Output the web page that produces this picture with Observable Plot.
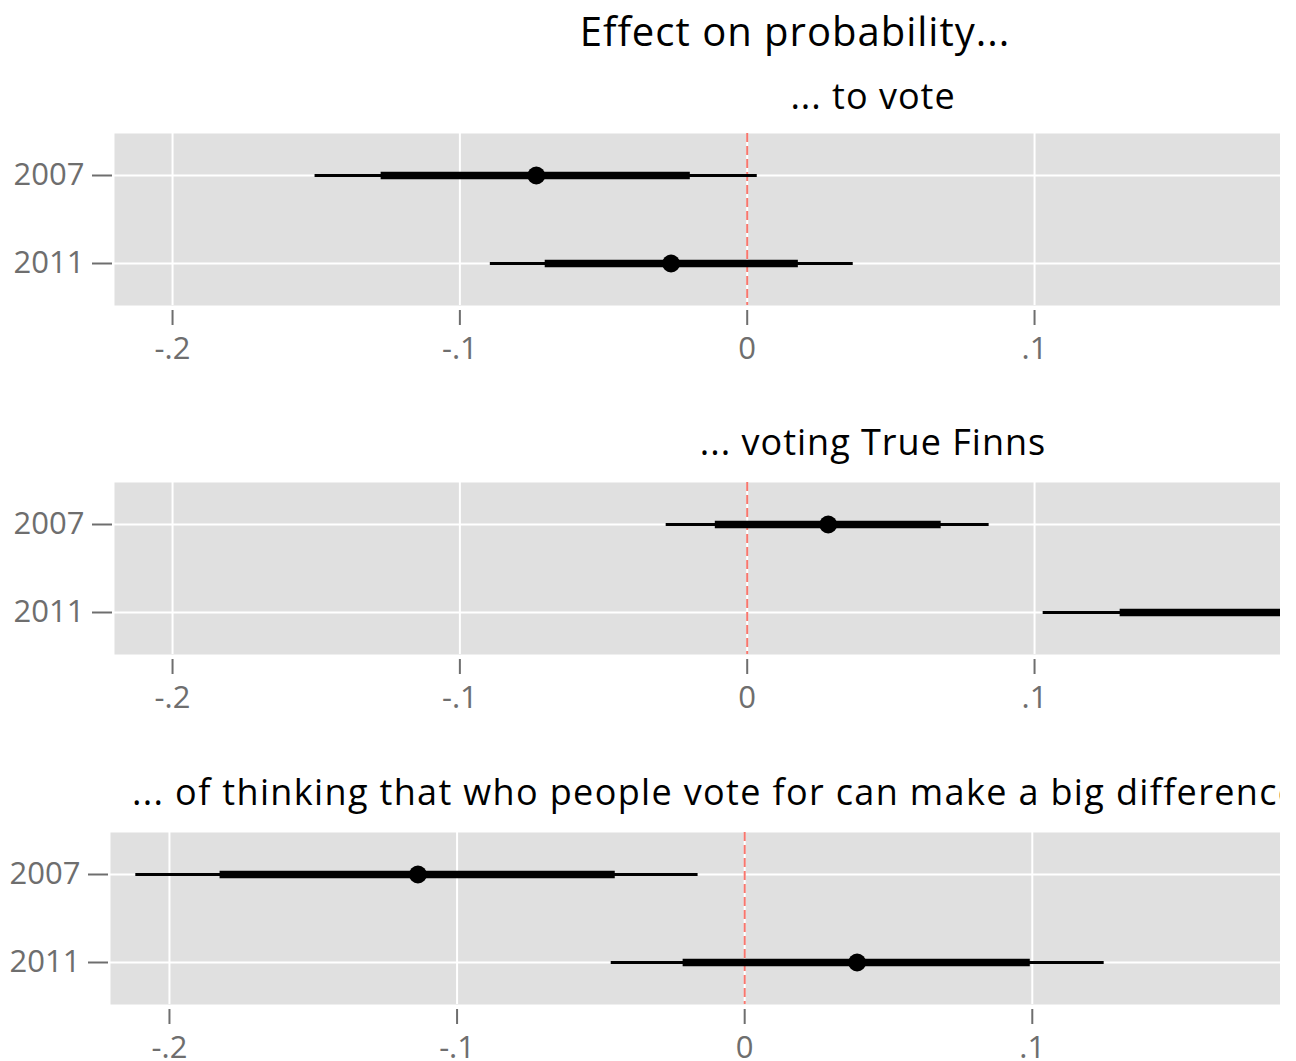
<!DOCTYPE html>
<html>
<head>
<meta charset="utf-8">
<script src="https://cdn.jsdelivr.net/npm/d3@7"></script>
<script src="https://cdn.jsdelivr.net/npm/@observablehq/plot@0.6"></script>
<style>
  html, body { margin: 0; padding: 0; background: white; overflow: hidden; }
  #page { position: relative; width: 1280px; height: 1061px; overflow: hidden; background: white; }
  .title { position: absolute; font-family: "Open Sans", sans-serif; font-size: 36px; line-height: 36px; letter-spacing: 1px; color: #000; white-space: nowrap; text-align: center; }
  .panel { position: absolute; left: 0; }
</style>
</head>
<body>
<div id="page">
  <div class="title" id="mainTitle" style="left:395px; width:800px; top:11px; font-size:40px; line-height:40px;"></div>
  <div class="title" id="t1" style="left:273px; width:1200px; top:78px;"></div>
  <div class="panel" id="p1" style="top:123px;"></div>
  <div class="title" id="t2" style="left:273px; width:1200px; top:424px;"></div>
  <div class="panel" id="p2" style="top:472px;"></div>
  <div class="title" id="t3" style="left:132px; top:774px; text-align:left; letter-spacing:1.35px;"></div>
  <div class="panel" id="p3" style="top:822px;"></div>
</div>
<script>
// ---- data ----
const mainTitle = "Effect on probability...";
const years = ["2007", "2011"];
const panelTitles = [
  "... to vote",
  "... voting True Finns",
  "... of thinking that who people vote for can make a big difference"
];
const xTicks = [-0.2, -0.1, 0, 0.1];

// panel 1: ... to vote
const voteEst     = [-0.0734, -0.0265];
const voteInnerLo = [-0.1274, -0.0703];
const voteInnerHi = [-0.0198,  0.0178];
const voteOuterLo = [-0.1504, -0.0894];
const voteOuterHi = [ 0.0035,  0.0369];

// panel 2: ... voting True Finns
const finnsEst     = [ 0.0282, 0.192];
const finnsInnerLo = [-0.0111, 0.1298];
const finnsInnerHi = [ 0.0675, 0.254];
const finnsOuterLo = [-0.0282, 0.1030];
const finnsOuterHi = [ 0.0842, 0.281];

// panel 3: ... of thinking that who people vote for can make a big difference
const diffEst     = [-0.1136,  0.0391];
const diffInnerLo = [-0.1824, -0.0214];
const diffInnerHi = [-0.0450,  0.0993];
const diffOuterLo = [-0.2117, -0.0464];
const diffOuterHi = [-0.0162,  0.1250];

// ---- drawing ----
const fmt = d => d === 0 ? "0" : (d < 0 ? "-" : "") + String(Math.abs(d)).replace(/^0/, "");
const axisColor = "#6e6e6e";

function panel(est, inLo, inHi, outLo, outHi, left, domain) {
  const rows = years.map((y, i) => ({
    year: y, est: est[i], innerLo: inLo[i], innerHi: inHi[i], outerLo: outLo[i], outerHi: outHi[i]
  }));
  return Plot.plot({
    width: 1280,
    height: 240,
    marginLeft: left,
    marginRight: 0,
    marginTop: 10,
    marginBottom: 58,
    x: {domain, label: null},
    y: {type: "point", domain: years, padding: 0.477, label: null},
    style: {fontFamily: "'Open Sans', sans-serif", fontSize: "31px", color: axisColor, background: "transparent", overflow: "visible"},
    marks: [
      Plot.frame({fill: "#e0e0e0", stroke: null}),
      Plot.gridX(xTicks, {stroke: "white", strokeOpacity: 1, strokeWidth: 2}),
      Plot.gridY({stroke: "white", strokeOpacity: 1, strokeWidth: 2}),
      Plot.ruleX([0], {stroke: "#f8766d", strokeWidth: 2, strokeDasharray: "9,4"}),
      Plot.ruleY(rows, {y: "year", x1: "outerLo", x2: "outerHi", stroke: "black", strokeWidth: 3, clip: true}),
      Plot.ruleY(rows, {y: "year", x1: "innerLo", x2: "innerHi", stroke: "black", strokeWidth: 7.5, clip: true}),
      Plot.dot(rows, {x: "est", y: "year", r: 9, fill: "black", stroke: null, clip: true}),
      Plot.axisX(xTicks, {tickFormat: fmt, tickSize: 15, tickPadding: 11, dy: 5, strokeWidth: 2, label: null}),
      Plot.axisY({tickSize: 20, tickPadding: 8, dx: -2, strokeWidth: 2, label: null})
    ]
  });
}

document.getElementById("mainTitle").textContent = mainTitle;
document.getElementById("t1").textContent = panelTitles[0];
document.getElementById("t2").textContent = panelTitles[1];
document.getElementById("t3").textContent = panelTitles[2];

document.getElementById("p1").appendChild(
  panel(voteEst, voteInnerLo, voteInnerHi, voteOuterLo, voteOuterHi, 114, [-0.2202, 0.1856]));
document.getElementById("p2").appendChild(
  panel(finnsEst, finnsInnerLo, finnsInnerHi, finnsOuterLo, finnsOuterHi, 114, [-0.2202, 0.1856]));
document.getElementById("p3").appendChild(
  panel(diffEst, diffInnerLo, diffInnerHi, diffOuterLo, diffOuterHi, 110, [-0.2205, 0.1863]));
</script>
</body>
</html>
